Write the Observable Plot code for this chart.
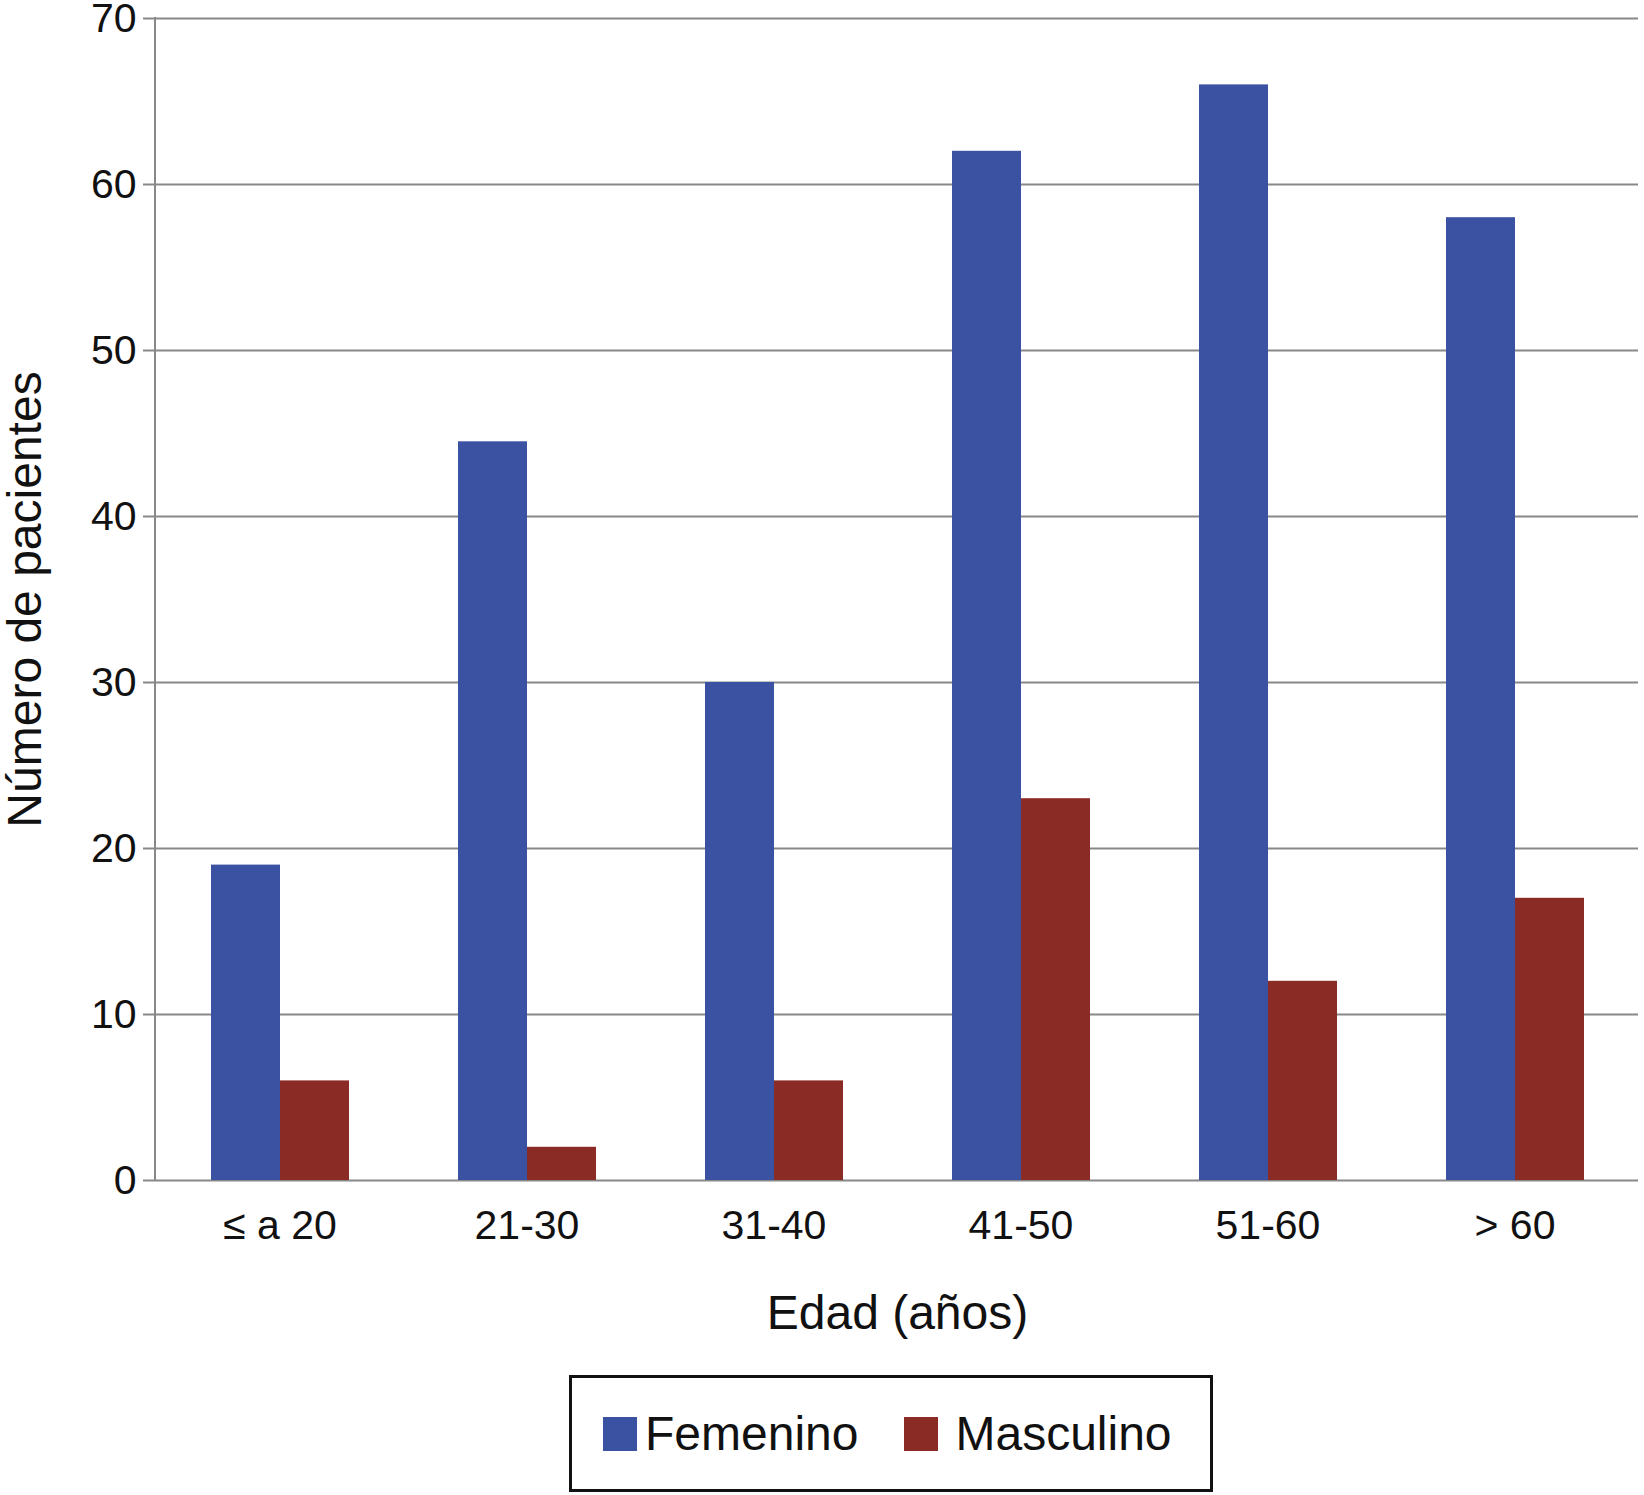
<!DOCTYPE html>
<html>
<head>
<meta charset="utf-8">
<script src="https://cdn.jsdelivr.net/npm/d3@7"></script>
<script src="https://cdn.jsdelivr.net/npm/@observablehq/plot@0.6"></script>
<style>
  html, body { margin: 0; padding: 0; background: #fff; }
  body { width: 1644px; font-family: "Liberation Sans", Arial, sans-serif; }
  svg { overflow: visible; }
  #legend {
    margin-left: 569px; margin-top: 15px;
    width: 607px; height: 111px; border: 3px solid #111; padding-left: 31px;
    display: flex; align-items: center; justify-content: flex-start;
    font-size: 48px; color: #111; box-sizing: content-box;
  }
  .item { display: flex; align-items: center; }
  .sw { width: 34px; height: 34px; }
</style>
</head>
<body>
<div id="chart"></div>
<div id="legend"></div>
<script>
const categories = ["≤ a 20", "21-30", "31-40", "41-50", "51-60", "> 60"];
const series = ["Femenino", "Masculino"];
const femenino = [19, 44.5, 30, 62, 66, 58];
const masculino = [6, 2, 6, 23, 12, 17];
const yTicks = [0, 10, 20, 30, 40, 50, 60, 70];
const colors = ["#3B52A3", "#8B2B26"];
const yTitle = "Número de pacientes";
const xTitle = "Edad (años)";

const data = [];
categories.forEach((c, i) => {
  data.push({cat: c, sex: series[0], value: femenino[i]});
  data.push({cat: c, sex: series[1], value: masculino[i]});
});

const chart = Plot.plot({
  width: 1644,
  height: 1360,
  marginTop: 18,
  marginLeft: 155,
  marginRight: 6,
  marginBottom: 180,
  style: {fontFamily: "'Liberation Sans', Arial, sans-serif", background: "#fff", color: "#111"},
  fx: {domain: categories, padding: 0, label: null},
  x: {domain: series, paddingInner: 0, paddingOuter: 0.772, axis: null},
  y: {domain: [0, 70], ticks: yTicks, label: null},
  color: {domain: series, range: colors},
  marks: [
    Plot.gridY(yTicks, {stroke: "#888", strokeOpacity: 1, strokeWidth: 2}),
    Plot.barY(data, {fx: "cat", x: "sex", y: "value", fill: "sex"}),
    Plot.axisY(yTicks, {
      anchor: "left",
      tickSize: 13, tickPadding: 7, fontSize: 41, stroke: "#888", strokeWidth: 2,
      label: yTitle, labelAnchor: "center", labelArrow: "none", labelOffset: 150, fill: "#111"
    }),
    Plot.axisFx({
      anchor: "bottom",
      tickSize: 0, tickPadding: 29, fontSize: 41,
      label: xTitle, labelAnchor: "center", labelArrow: "none", labelOffset: 148, fill: "#111"
    })
  ]
});
document.getElementById("chart").appendChild(chart);

// axis titles: larger font, no arrows
d3.select(chart).selectAll("[aria-label='y-axis label'] text").attr("font-size", 48).text(yTitle);
d3.select(chart).selectAll("[aria-label='fx-axis label'] text").attr("font-size", 48).text(xTitle);

// vertical y-axis line at the left edge of the frame, from the y scale
const ys = chart.scale("y");
const yPos = v => ys.apply ? ys.apply(v) : (ys.range[0] + (v - ys.domain[0]) / (ys.domain[1] - ys.domain[0]) * (ys.range[1] - ys.range[0]));
d3.select(chart).append("line")
  .attr("x1", 155).attr("x2", 155)
  .attr("y1", yPos(ys.domain[0]) + 1).attr("y2", yPos(ys.domain[1]) - 1)
  .attr("stroke", "#888").attr("stroke-width", 2);

const legend = d3.select("#legend");
const gaps = [8, 17];
series.forEach((s, i) => {
  const it = legend.append("div").attr("class", "item").style("margin-left", i ? "46px" : "0px");
  it.append("div").attr("class", "sw").style("background", colors[i]).style("margin-right", gaps[i] + "px");
  it.append("span").text(s);
});
</script>
</body>
</html>
